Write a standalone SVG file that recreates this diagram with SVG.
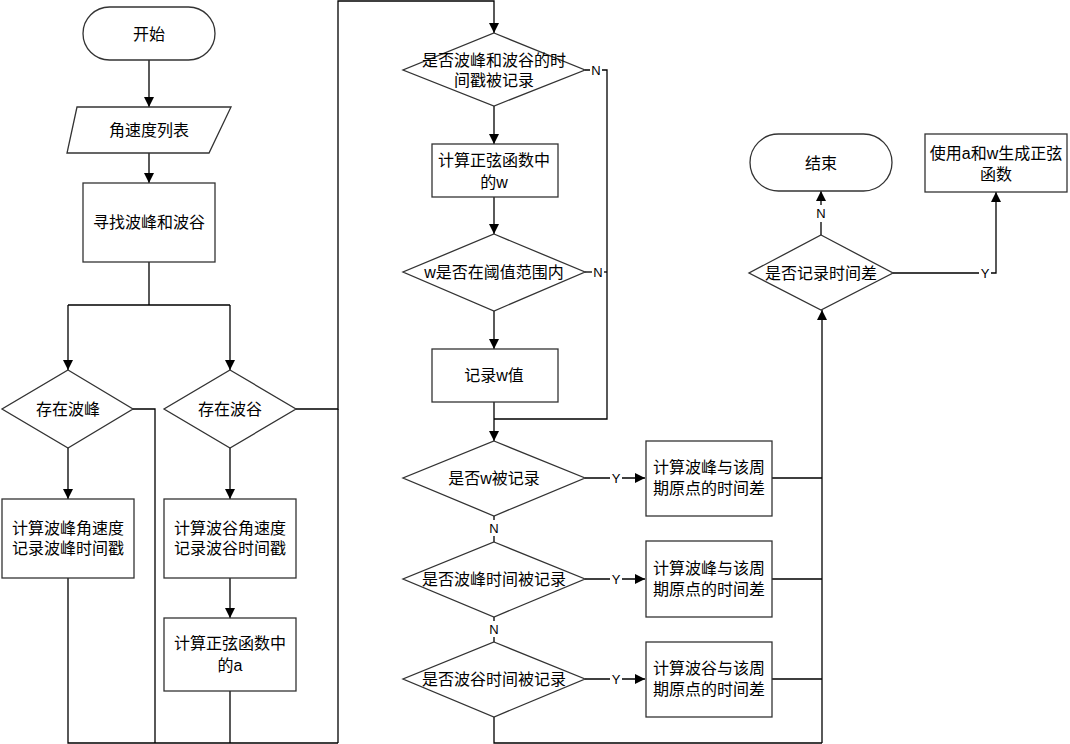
<svg xmlns="http://www.w3.org/2000/svg" width="1070" height="744" viewBox="0 0 1070 744">
<defs>
<marker id="arr" markerWidth="10" markerHeight="10" refX="10" refY="5" orient="auto" markerUnits="userSpaceOnUse">
<path d="M0,0 L10,5 L0,10 Z" fill="#000"/>
</marker>
<style>
.s{fill:#fff;stroke:#333;stroke-width:1.3}
.t{font-family:"Liberation Sans","Noto Sans CJK SC",sans-serif;font-size:16px;fill:#000;text-anchor:middle;dominant-baseline:central}
.c{fill:none;stroke:#000;stroke-width:1.3}
.a{marker-end:url(#arr)}
.l{font-family:"Liberation Sans",sans-serif;font-size:13px;fill:#000;text-anchor:middle;dominant-baseline:central}
.bg{fill:#fff}
</style>
</defs>
<rect width="1070" height="744" fill="#fff"/>
<g id="connectors">
<path class="c a" d="M149,60 V107"/>
<path class="c a" d="M149,153 V183"/>
<path class="c" d="M149,262 V305 M68,305 H230"/>
<path class="c a" d="M68,305 V370"/>
<path class="c a" d="M230,305 V370"/>
<path class="c a" d="M68,448 V499"/>
<path class="c a" d="M230,448 V499"/>
<path class="c a" d="M230,578 V618"/>
<path class="c" d="M133,409 H155 V743"/>
<path class="c" d="M68,578 V743 H338"/>
<path class="c" d="M230,691 V743"/>
<path class="c a" d="M296,409 H338 V1 H494 V33"/>
<path class="c" d="M338,743 V409"/>
<path class="c a" d="M494,106 V144"/>
<path class="c a" d="M494,197 V234"/>
<path class="c a" d="M494,311 V349"/>
<path class="c" d="M585,70 H607 V419 H494"/>
<path class="c" d="M585,272 H607"/>
<path class="c a" d="M494,402 V441"/>
<path class="c a" d="M585,478 H645"/>
<path class="c a" d="M585,579 H645"/>
<path class="c a" d="M585,679 H645"/>
<path class="c" d="M494,516 V542"/>
<path class="c" d="M494,617 V642"/>
<path class="c" d="M494,717 V743 H822"/>
<path class="c" d="M772,478 H822 M772,579 H822 M772,679 H822"/>
<path class="c a" d="M822,743 V310"/>
<path class="c a" d="M821,235 V191"/>
<path class="c a" d="M893,273 H996 V192"/>
<rect class="bg" x="590" y="62" width="12" height="16"/>
<text class="l" x="596" y="70">N</text>
<rect class="bg" x="592" y="264" width="12" height="16"/>
<text class="l" x="598" y="272">N</text>
<rect class="bg" x="610" y="470" width="12" height="16"/>
<text class="l" x="616" y="478">Y</text>
<rect class="bg" x="610" y="571" width="12" height="16"/>
<text class="l" x="616" y="579">Y</text>
<rect class="bg" x="610" y="671" width="12" height="16"/>
<text class="l" x="616" y="679">Y</text>
<rect class="bg" x="488" y="520" width="12" height="16"/>
<text class="l" x="494" y="528">N</text>
<rect class="bg" x="488" y="621" width="12" height="16"/>
<text class="l" x="494" y="629">N</text>
<rect class="bg" x="815" y="205" width="12" height="17"/>
<text class="l" x="821" y="213">N</text>
<rect class="bg" x="979" y="265" width="12" height="16"/>
<text class="l" x="985" y="273">Y</text>
</g>
<g id="start">
<rect class="s" x="83" y="7" width="132" height="53" rx="26.5"/>
<text class="t" x="149" y="34">开始</text>
</g>
<g id="input">
<polygon class="s" points="77,107 231,107 209,153 67,153"/>
<text class="t" x="149" y="130">角速度列表</text>
</g>
<g id="find">
<rect class="s" x="83" y="183" width="132" height="79"/>
<text class="t" x="149" y="222">寻找波峰和波谷</text>
</g>
<g id="hasPeak">
<polygon class="s" points="68,370 133,409 68,448 2,409"/>
<text class="t" x="68" y="409">存在波峰</text>
</g>
<g id="hasTrough">
<polygon class="s" points="230,370 296,409 230,448 164,409"/>
<text class="t" x="230" y="409">存在波谷</text>
</g>
<g id="peakCalc">
<rect class="s" x="2" y="499" width="132" height="79"/>
<text class="t" x="68" y="528">计算波峰角速度</text>
<text class="t" x="68" y="548">记录波峰时间戳</text>
</g>
<g id="troughCalc">
<rect class="s" x="164" y="499" width="132" height="79"/>
<text class="t" x="230" y="528">计算波谷角速度</text>
<text class="t" x="230" y="548">记录波谷时间戳</text>
</g>
<g id="calcA">
<rect class="s" x="164" y="618" width="132" height="73"/>
<text class="t" x="230" y="643">计算正弦函数中</text>
<text class="t" x="230" y="665">的a</text>
</g>
<g id="bothRecorded">
<polygon class="s" points="494,33 585,70 494,106 403,70"/>
<text class="t" x="494" y="60">是否波峰和波谷的时</text>
<text class="t" x="494" y="80">间戳被记录</text>
</g>
<g id="calcW">
<rect class="s" x="432" y="144" width="126" height="53"/>
<text class="t" x="494" y="160">计算正弦函数中</text>
<text class="t" x="494" y="182">的w</text>
</g>
<g id="wRange">
<polygon class="s" points="494,234 585,272 494,311 403,272"/>
<text class="t" x="494" y="272">w是否在阈值范围内</text>
</g>
<g id="recordW">
<rect class="s" x="432" y="349" width="126" height="53"/>
<text class="t" x="494" y="375">记录w值</text>
</g>
<g id="wRecorded">
<polygon class="s" points="494,441 585,478 494,516 403,478"/>
<text class="t" x="494" y="478">是否w被记录</text>
</g>
<g id="peakTimeRecorded">
<polygon class="s" points="494,542 585,579 494,617 403,579"/>
<text class="t" x="494" y="579">是否波峰时间被记录</text>
</g>
<g id="troughTimeRecorded">
<polygon class="s" points="494,642 585,679 494,717 403,679"/>
<text class="t" x="494" y="679">是否波谷时间被记录</text>
</g>
<g id="diff1">
<rect class="s" x="646" y="441" width="126" height="75"/>
<text class="t" x="709" y="467">计算波峰与该周</text>
<text class="t" x="709" y="488">期原点的时间差</text>
</g>
<g id="diff2">
<rect class="s" x="646" y="541" width="126" height="76"/>
<text class="t" x="709" y="568">计算波峰与该周</text>
<text class="t" x="709" y="589">期原点的时间差</text>
</g>
<g id="diff3">
<rect class="s" x="646" y="642" width="126" height="75"/>
<text class="t" x="709" y="668">计算波谷与该周</text>
<text class="t" x="709" y="689">期原点的时间差</text>
</g>
<g id="diffRecorded">
<polygon class="s" points="821,235 893,273 821,310 749,273"/>
<text class="t" x="821" y="273">是否记录时间差</text>
</g>
<g id="end">
<rect class="s" x="750" y="134" width="142" height="57" rx="28.5"/>
<text class="t" x="821" y="163">结束</text>
</g>
<g id="generate">
<rect class="s" x="925" y="134" width="142" height="58"/>
<text class="t" x="996" y="153">使用a和w生成正弦</text>
<text class="t" x="996" y="174">函数</text>
</g>
</svg>
